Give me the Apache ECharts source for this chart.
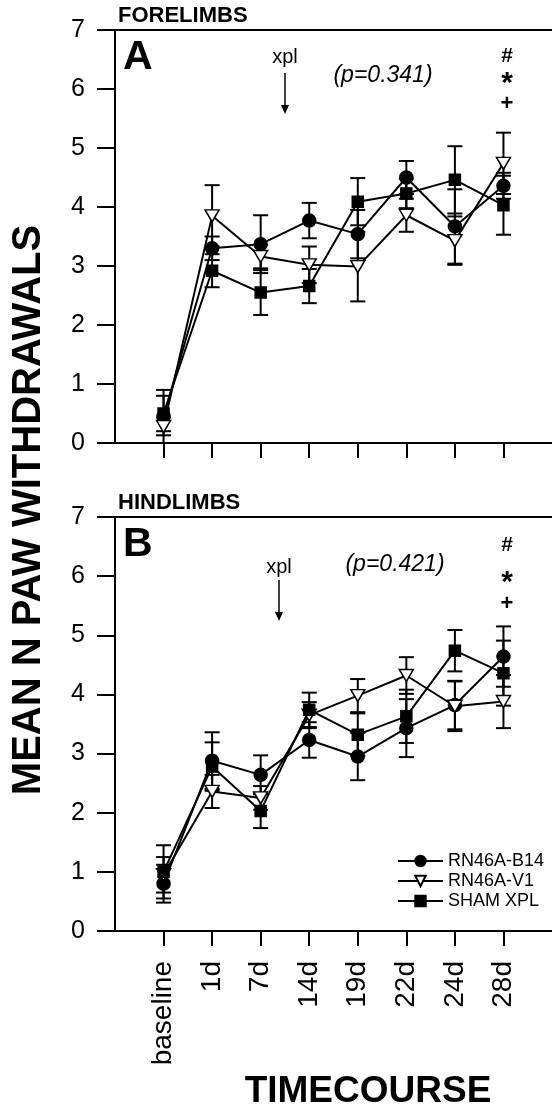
<!DOCTYPE html>
<html>
<head>
<meta charset="utf-8">
<script src="https://cdn.jsdelivr.net/npm/echarts@6/dist/echarts.min.js"></script>
<style>
  html, body { margin: 0; padding: 0; background: #fff; }
  #chart { width: 552px; height: 1108px; }
</style>
</head>
<body>
<div id="chart"></div>
<script>
// time points
const categories = ['baseline', '1d', '7d', '14d', '19d', '22d', '24d', '28d'];
const yTicks = [0, 1, 2, 3, 4, 5, 6, 7];

// A: forelimbs (mean, sem)
const foreB14 = [0.45, 3.30, 3.37, 3.77, 3.54, 4.50, 3.67, 4.36];
const foreB14Se = [0.45, 0.20, 0.49, 0.30, 0.41, 0.28, 0.63, 0.22];
const foreV1 = [0.28, 3.85, 3.16, 3.02, 2.99, 3.86, 3.43, 4.74];
const foreV1Se = [0.15, 0.52, 0.20, 0.31, 0.59, 0.28, 0.41, 0.52];
const foreSham = [0.50, 2.92, 2.55, 2.66, 4.09, 4.23, 4.46, 4.03];
const foreShamSe = [0.30, 0.28, 0.38, 0.29, 0.40, 0.25, 0.57, 0.50];

// B: hindlimbs
const hindB14 = [0.80, 2.88, 2.64, 3.23, 2.95, 3.43, 3.82, 4.64];
const hindB14Se = [0.32, 0.48, 0.33, 0.30, 0.40, 0.49, 0.41, 0.51];
const hindV1 = [0.95, 2.36, 2.25, 3.65, 3.98, 4.32, 3.80, 3.88];
const hindV1Se = [0.30, 0.28, 0.20, 0.22, 0.28, 0.31, 0.42, 0.45];
const hindSham = [1.00, 2.78, 2.03, 3.74, 3.32, 3.63, 4.74, 4.36];
const hindShamSe = [0.45, 0.41, 0.29, 0.29, 0.36, 0.45, 0.35, 0.55];

const FONT = 'Liberation Sans, Arial, sans-serif';

const chart = echarts.init(document.getElementById('chart'));

const symbols = {
  'RN46A-B14': { symbol: 'circle', symbolSize: 13, symbolRotate: 0, color: '#000' },
  'RN46A-V1': { symbol: 'triangle', symbolSize: [14, 12], symbolRotate: 180, color: '#fff' },
  'SHAM XPL': { symbol: 'rect', symbolSize: 11, symbolRotate: 0, color: '#000' }
};

function lineSeries(name, vals, xIdx, yIdx) {
  const s = symbols[name];
  return {
    name: name,
    type: 'line',
    xAxisIndex: xIdx,
    yAxisIndex: yIdx,
    data: vals.map((v, i) => [i, v]),
    symbol: s.symbol,
    symbolSize: s.symbolSize,
    symbolRotate: s.symbolRotate,
    lineStyle: { color: '#000', width: 2 },
    itemStyle: { color: s.color, borderColor: '#000', borderWidth: 1.5 },
    z: 5,
    animation: false
  };
}

function errSeries(vals, se, xIdx, yIdx) {
  return {
    type: 'custom',
    xAxisIndex: xIdx,
    yAxisIndex: yIdx,
    data: vals.map((v, i) => [i, v - se[i], v + se[i]]),
    renderItem: function (params, api) {
      const lo = api.coord([api.value(0), api.value(1)]);
      const hi = api.coord([api.value(0), api.value(2)]);
      const w = 7.5;
      const st = { stroke: '#000', lineWidth: 2 };
      return {
        type: 'group',
        children: [
          { type: 'line', shape: { x1: lo[0], y1: lo[1], x2: hi[0], y2: hi[1] }, style: st },
          { type: 'line', shape: { x1: lo[0] - w, y1: lo[1], x2: lo[0] + w, y2: lo[1] }, style: st },
          { type: 'line', shape: { x1: hi[0] - w, y1: hi[1], x2: hi[0] + w, y2: hi[1] }, style: st }
        ]
      };
    },
    z: 3,
    silent: true,
    animation: false
  };
}

const tickIdx = categories.map((c, i) => i);

function xAxes(idx, showLabels) {
  return [{
    type: 'value',
    gridIndex: idx,
    position: 'bottom',
    min: -1,
    max: 8,
    interval: 1,
    axisLine: { onZero: false, lineStyle: { color: '#000', width: 2 } },
    axisTick: { show: true, customValues: tickIdx, length: 15, lineStyle: { color: '#000', width: 2 } },
    axisLabel: {
      show: showLabels,
      customValues: tickIdx,
      rotate: 90,
      margin: 30,
      fontSize: 28,
      fontFamily: FONT,
      color: '#000',
      formatter: v => categories[v] || ''
    },
    splitLine: { show: false }
  }, {
    type: 'value',
    gridIndex: idx,
    position: 'top',
    min: -1,
    max: 8,
    axisLine: { onZero: false, lineStyle: { color: '#000', width: 2 } },
    axisTick: { show: false },
    axisLabel: { show: false },
    splitLine: { show: false }
  }];
}

function yAxis(idx) {
  return {
    type: 'value',
    gridIndex: idx,
    min: 0,
    max: 7,
    interval: 1,
    axisLine: { show: true, onZero: false, lineStyle: { color: '#000', width: 2 } },
    axisTick: { show: true, length: 18, lineStyle: { color: '#000', width: 2 } },
    axisLabel: { margin: 30, fontSize: 25, fontFamily: FONT, color: '#000' },
    splitLine: { show: false }
  };
}

const xa = xAxes(0, false);
const xb = xAxes(1, true);

function txt(x, y, text, size, extra) {
  return {
    type: 'text',
    x: x, y: y,
    style: Object.assign({
      text: text, fontSize: size, fontFamily: FONT, fill: '#000',
      align: 'left', verticalAlign: 'top'
    }, extra || {})
  };
}

function arrow(x, y1, y2) {
  return {
    type: 'group',
    children: [
      { type: 'line', shape: { x1: x, y1: y1, x2: x, y2: y2 - 4 }, style: { stroke: '#000', lineWidth: 1.5 } },
      { type: 'polygon', shape: { points: [[x - 4, y2 - 9], [x + 4, y2 - 9], [x, y2]] }, style: { fill: '#000' } }
    ]
  };
}

const option = {
  backgroundColor: '#fff',
  animation: false,
  grid: [
    { left: 115, top: 30, width: 441, height: 413 },
    { left: 115, top: 517, width: 441, height: 414 }
  ],
  xAxis: [xa[0], xa[1], xb[0], xb[1]],
  yAxis: [yAxis(0), yAxis(1)],
  legend: {
    orient: 'vertical',
    left: 397,
    top: 852,
    padding: 0,
    itemGap: 2,
    itemWidth: 45,
    itemHeight: 13,
    data: ['RN46A-B14', 'RN46A-V1', 'SHAM XPL'],
    textStyle: { fontSize: 18, fontFamily: FONT, color: '#000', padding: [0, 0, 0, 0] }
  },
  graphic: [
    txt(29, 510, 'MEAN N PAW WITHDRAWALS', 40, { fontWeight: 'bold', align: 'center', verticalAlign: 'middle' }),
    txt(368, 1092, 'TIMECOURSE', 37, { fontWeight: 'bold', align: 'center', verticalAlign: 'middle' }),
    // panel A
    txt(118, 5, 'FORELIMBS', 22, { fontWeight: 'bold' }),
    txt(123, 37, 'A', 41, { fontWeight: 'bold' }),
    txt(285, 57, 'xpl', 20, { align: 'center', verticalAlign: 'middle' }),
    arrow(285, 73, 114),
    txt(383, 76, '(p=0.341)', 23, { fontStyle: 'italic', align: 'center', verticalAlign: 'middle' }),
    txt(507, 56, '#', 21, { fontWeight: 'bold', align: 'center', verticalAlign: 'middle' }),
    txt(507, 84, '*', 30, { fontWeight: 'bold', align: 'center', verticalAlign: 'middle' }),
    txt(507, 104, '+', 22, { fontWeight: 'bold', align: 'center', verticalAlign: 'middle' }),
    // panel B
    txt(118, 492, 'HINDLIMBS', 22, { fontWeight: 'bold' }),
    txt(123, 524, 'B', 41, { fontWeight: 'bold' }),
    txt(279, 567, 'xpl', 20, { align: 'center', verticalAlign: 'middle' }),
    arrow(279, 580, 621),
    txt(395, 565, '(p=0.421)', 23, { fontStyle: 'italic', align: 'center', verticalAlign: 'middle' }),
    txt(507, 545, '#', 21, { fontWeight: 'bold', align: 'center', verticalAlign: 'middle' }),
    txt(507, 583, '*', 30, { fontWeight: 'bold', align: 'center', verticalAlign: 'middle' }),
    txt(507, 604, '+', 22, { fontWeight: 'bold', align: 'center', verticalAlign: 'middle' })
  ],
  series: [
    errSeries(foreB14, foreB14Se, 0, 0),
    errSeries(foreV1, foreV1Se, 0, 0),
    errSeries(foreSham, foreShamSe, 0, 0),
    lineSeries('RN46A-B14', foreB14, 0, 0),
    lineSeries('RN46A-V1', foreV1, 0, 0),
    lineSeries('SHAM XPL', foreSham, 0, 0),
    errSeries(hindB14, hindB14Se, 2, 1),
    errSeries(hindV1, hindV1Se, 2, 1),
    errSeries(hindSham, hindShamSe, 2, 1),
    lineSeries('RN46A-B14', hindB14, 2, 1),
    lineSeries('RN46A-V1', hindV1, 2, 1),
    lineSeries('SHAM XPL', hindSham, 2, 1)
  ]
};

// rotate the y title
option.graphic[0].rotation = Math.PI / 2;

chart.setOption(option);
</script>
</body>
</html>
